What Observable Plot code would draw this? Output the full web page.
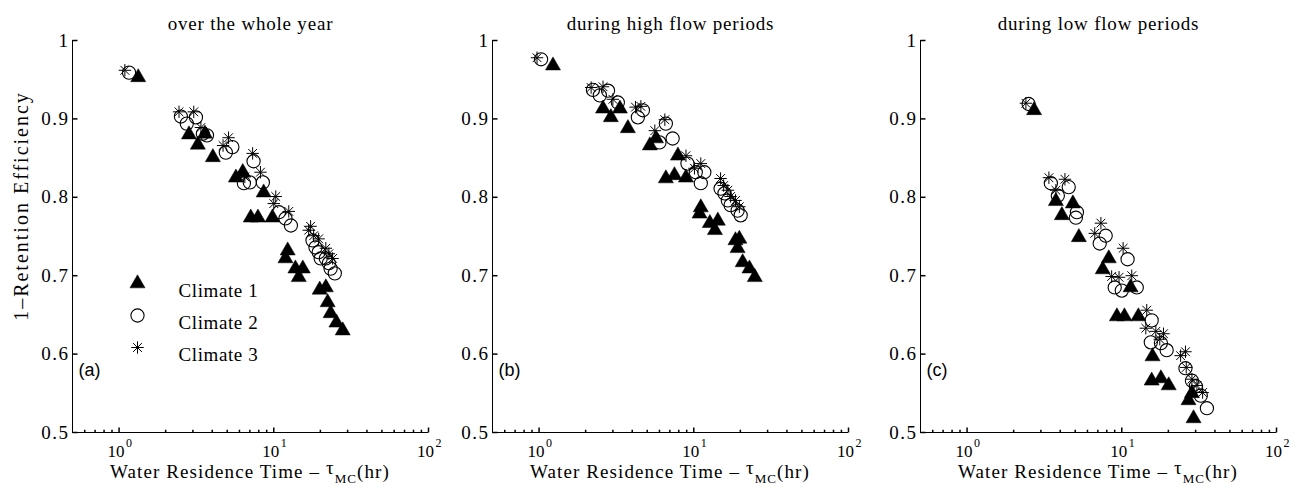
<!DOCTYPE html>
<html><head><meta charset="utf-8">
<script src="https://cdn.jsdelivr.net/npm/d3@7"></script>
<script src="https://cdn.jsdelivr.net/npm/@observablehq/plot@0.6"></script>
<style>
body{margin:0;background:#fff}
#chart{position:relative;width:1301px;height:498px;overflow:hidden;background:#fff}
#chart svg{position:absolute;top:0;overflow:visible;max-width:none}
</style></head><body><div id="chart"></div>
<script>
// ---------- data: [water residence time (hr), 1-retention efficiency] ----------
const yearClimate1 = [[1.33,0.953],[2.83,0.880],[3.23,0.867],[3.59,0.881],[4.04,0.851],[5.69,0.825],[6.3,0.832],[8.6,0.806],[7.1,0.774],[7.9,0.774],[9.8,0.774],[12.3,0.732],[11.9,0.722],[13.8,0.709],[15.4,0.709],[14.5,0.698],[19.8,0.682],[21.7,0.685],[22.3,0.666],[23.3,0.652],[25.4,0.640],[27.9,0.630]];
const yearClimate2 = [[1.16,0.959],[2.51,0.903],[2.74,0.894],[3.14,0.902],[3.48,0.881],[3.7,0.879],[4.9,0.857],[5.4,0.864],[7.4,0.846],[6.41,0.818],[7.0,0.819],[8.5,0.819],[10.8,0.781],[11.9,0.773],[12.9,0.764],[17.8,0.745],[18.6,0.736],[19.5,0.730],[20.1,0.722],[21.7,0.722],[22.7,0.716],[23.3,0.709],[24.8,0.703]];
const yearClimate3 = [[1.09,0.962],[2.44,0.909],[3.04,0.909],[3.38,0.889],[4.7,0.866],[5.1,0.876],[7.3,0.856],[8.2,0.832],[6.5,0.826],[10.3,0.801],[10.0,0.792],[12.5,0.782],[17.3,0.763],[16.8,0.758],[18.1,0.751],[19.5,0.747],[21.7,0.735],[22.7,0.728],[24.0,0.722]];

const highClimate1 = [[1.23,0.968],[2.59,0.913],[2.91,0.902],[3.33,0.913],[3.75,0.888],[5.2,0.866],[5.7,0.875],[7.9,0.853],[6.6,0.824],[7.5,0.828],[8.9,0.825],[11.1,0.787],[10.9,0.779],[12.7,0.767],[14.3,0.770],[13.7,0.758],[18.6,0.745],[19.7,0.747],[19.2,0.735],[20.7,0.717],[22.9,0.709],[24.8,0.698]];
const highClimate2 = [[1.03,0.976],[2.23,0.937],[2.47,0.930],[2.79,0.936],[3.23,0.921],[4.35,0.902],[4.69,0.911],[6.6,0.894],[6.0,0.870],[7.3,0.875],[9.1,0.843],[10.3,0.832],[11.1,0.818],[11.7,0.832],[14.9,0.811],[15.8,0.805],[16.6,0.796],[17.3,0.790],[19.2,0.783],[20.1,0.777]];
const highClimate3 = [[0.97,0.978],[2.17,0.940],[2.59,0.941],[3.0,0.925],[4.2,0.915],[4.55,0.916],[6.5,0.899],[5.6,0.885],[8.9,0.853],[11.1,0.843],[10.1,0.837],[14.9,0.824],[15.6,0.815],[16.6,0.809],[17.3,0.801],[18.6,0.796],[19.7,0.788]];

const lowClimate1 = [[2.71,0.911],[3.75,0.795],[4.83,0.792],[4.10,0.777],[5.28,0.749],[8.24,0.722],[7.53,0.708],[11.4,0.685],[9.3,0.648],[10.4,0.648],[12.8,0.648],[15.8,0.597],[15.6,0.566],[17.9,0.569],[20.1,0.560],[27.0,0.541],[28.4,0.550],[29.1,0.518]];
const lowClimate2 = [[2.5,0.919],[3.48,0.818],[4.54,0.813],[3.86,0.802],[5.13,0.781],[5.05,0.774],[7.87,0.751],[7.2,0.741],[10.9,0.721],[9.0,0.685],[10.0,0.681],[12.5,0.685],[15.6,0.643],[15.4,0.615],[17.9,0.614],[19.5,0.605],[25.8,0.582],[28.4,0.566],[30.1,0.559],[32.4,0.547],[35.5,0.531]];
const lowClimate3 = [[2.40,0.920],[3.38,0.825],[4.29,0.823],[3.75,0.809],[7.33,0.767],[6.69,0.754],[10.2,0.735],[8.6,0.699],[9.6,0.698],[11.6,0.700],[14.5,0.656],[14.3,0.633],[16.6,0.629],[18.6,0.626],[17.6,0.619],[24.0,0.598],[25.8,0.603],[26.1,0.583],[28.4,0.568],[30.6,0.560],[33.3,0.551]];

const panelTitles = ["over the whole year", "during high flow periods", "during low flow periods"];
const panelLetters = ["(a)", "(b)", "(c)"];
const legendLabels = ["Climate 1", "Climate 2", "Climate 3"];
const yTickValues = [0.5, 0.6, 0.7, 0.8, 0.9, 1];
const yTickLabels = ["0.5", "0.6", "0.7", "0.8", "0.9", "1"];
const xMajorTicks = [1, 10, 100];
const xMajorExponents = ["0", "1", "2"];
const xMinorTicks = [0.6,0.7,0.8,0.9,2,3,4,5,6,7,8,9,20,30,40,50,60,70,80,90];
const yLabel = "1\u2013Retention Efficiency";

// ---------- layout ----------
const panelLefts = [0, 420, 848];
const W = 450, H = 498, ML = 72, MR = 22, MT = 40, MB = 66;
const serif = "Liberation Serif, Times New Roman, serif";

const asteriskSymbol = {draw(ctx, size) {
  const r = Math.sqrt(size / Math.PI), d = r * Math.SQRT1_2;
  ctx.moveTo(-r, 0); ctx.lineTo(r, 0);
  ctx.moveTo(0, -r); ctx.lineTo(0, r);
  ctx.moveTo(-d, -d); ctx.lineTo(d, d);
  ctx.moveTo(-d, d); ctx.lineTo(d, -d);
}};
const tickRight = {draw(ctx, size) { const r = Math.sqrt(size / Math.PI); ctx.moveTo(0, 0); ctx.lineTo(r, 0); }};
const tickUp = {draw(ctx, size) { const r = Math.sqrt(size / Math.PI); ctx.moveTo(0, 0); ctx.lineTo(0, -r); }};

const panelData = [
  [yearClimate1, yearClimate2, yearClimate3],
  [highClimate1, highClimate2, highClimate3],
  [lowClimate1, lowClimate2, lowClimate3]
];

const triOpts = {symbol: "triangle", r: 5.6, fill: "black", stroke: "black", strokeWidth: 0.5};
const cirOpts = {symbol: "circle", r: 6.6, fill: "none", stroke: "black", strokeWidth: 1.1};
const astOpts = {symbol: asteriskSymbol, r: 6.2, fill: "none", stroke: "black", strokeWidth: 1};

const chart = document.getElementById("chart");

function spaceText(svg, texts, spacing) {
  d3.select(svg).selectAll("text").filter(function() { return texts.includes(this.textContent); })
    .attr("letter-spacing", spacing);
}

panelData.forEach((series, i) => {
  const [c1, c2, c3] = series;
  const marks = [
    Plot.ruleX([0.5], {stroke: "black", strokeWidth: 1}),
    Plot.ruleY([0.5], {stroke: "black", strokeWidth: 1}),
    // inward ticks
    Plot.dot(yTickValues, {x: () => 0.5, y: d => d, symbol: tickRight, r: 5, stroke: "black", fill: "none"}),
    Plot.dot(xMajorTicks, {x: d => d, y: () => 0.5, symbol: tickUp, r: 5, stroke: "black", fill: "none"}),
    Plot.dot(xMinorTicks, {x: d => d, y: () => 0.5, symbol: tickUp, r: 2.8, stroke: "black", fill: "none"}),
    // tick labels
    Plot.text(yTickValues, {x: () => 0.5, y: d => d, text: (d, j) => yTickLabels[j], textAnchor: "end", dx: -3, fontSize: 19, fontFamily: serif, fill: "black"}),
    Plot.text(xMajorTicks, {x: d => d, y: () => 0.5, text: () => "10", textAnchor: "middle", dx: -3, dy: 19, fontSize: 17, fontFamily: serif, fill: "black"}),
    Plot.text(xMajorTicks, {x: d => d, y: () => 0.5, text: (d, j) => xMajorExponents[j], textAnchor: "start", dx: 7, dy: 11, fontSize: 12, fontFamily: serif, fill: "black"}),
    // title and panel letter
    Plot.text([panelTitles[i]], {text: d => d, frameAnchor: "top", dy: -24, fontSize: 19, fontFamily: serif, fill: "black"}),
    Plot.text([panelLetters[i]], {text: d => d, frameAnchor: "bottom-left", dx: 6, dy: -57, textAnchor: "start", fontSize: 18, fontFamily: "Liberation Sans, Arial, sans-serif", fill: "black"}),
    // data
    Plot.dot(c1, {x: d => d[0], y: d => d[1], ...triOpts}),
    Plot.dot(c2, {x: d => d[0], y: d => d[1], ...cirOpts}),
    Plot.dot(c3, {x: d => d[0], y: d => d[1], ...astOpts})
  ];
  if (i === 0) {
    const legendOpts = [triOpts, cirOpts, astOpts];
    legendLabels.forEach((lab, k) => {
      const dy = 243 + 32 * k;
      marks.push(Plot.dot([lab], {frameAnchor: "top-left", dx: 65, dy, ...legendOpts[k]}));
      marks.push(Plot.text([lab], {text: d => d, frameAnchor: "top-left", dx: 106, dy, textAnchor: "start", fontSize: 19, fontFamily: serif, fill: "black"}));
    });
  }
  const svg = Plot.plot({
    width: W, height: H,
    marginLeft: ML, marginRight: MR, marginTop: MT, marginBottom: MB,
    x: {type: "log", domain: [0.5, 100], axis: null},
    y: {domain: [0.5, 1], axis: null},
    style: {background: "transparent", fontFamily: serif, overflow: "visible"},
    marks
  });
  svg.style.left = panelLefts[i] + "px";
  spaceText(svg, yTickLabels, 1.5);
  spaceText(svg, panelTitles, 0.8);
  spaceText(svg, legendLabels, 0.6);
  const sel = d3.select(svg);
  // x axis label with tau and subscript
  const cx = (ML + W - MR) / 2;
  const t = sel.append("text")
    .attr("x", cx).attr("y", 478).attr("text-anchor", "middle")
    .attr("font-family", serif).attr("font-size", 19).attr("letter-spacing", 1.1).attr("fill", "black");
  t.append("tspan").text("Water Residence Time \u2013 ");
  t.append("tspan").attr("dy", -4).text("\u03c4");
  t.append("tspan").attr("dy", 9).attr("font-size", 13).text("MC");
  t.append("tspan").attr("dy", -5).text("(hr)");
  if (i === 0) {
    sel.append("text")
      .attr("transform", "translate(21,206) rotate(-90)")
      .attr("text-anchor", "middle").attr("dominant-baseline", "central")
      .attr("font-family", serif).attr("font-size", 20).attr("letter-spacing", 2)
      .attr("fill", "black").text(yLabel);
  }
  chart.appendChild(svg);
});
</script></body></html>
